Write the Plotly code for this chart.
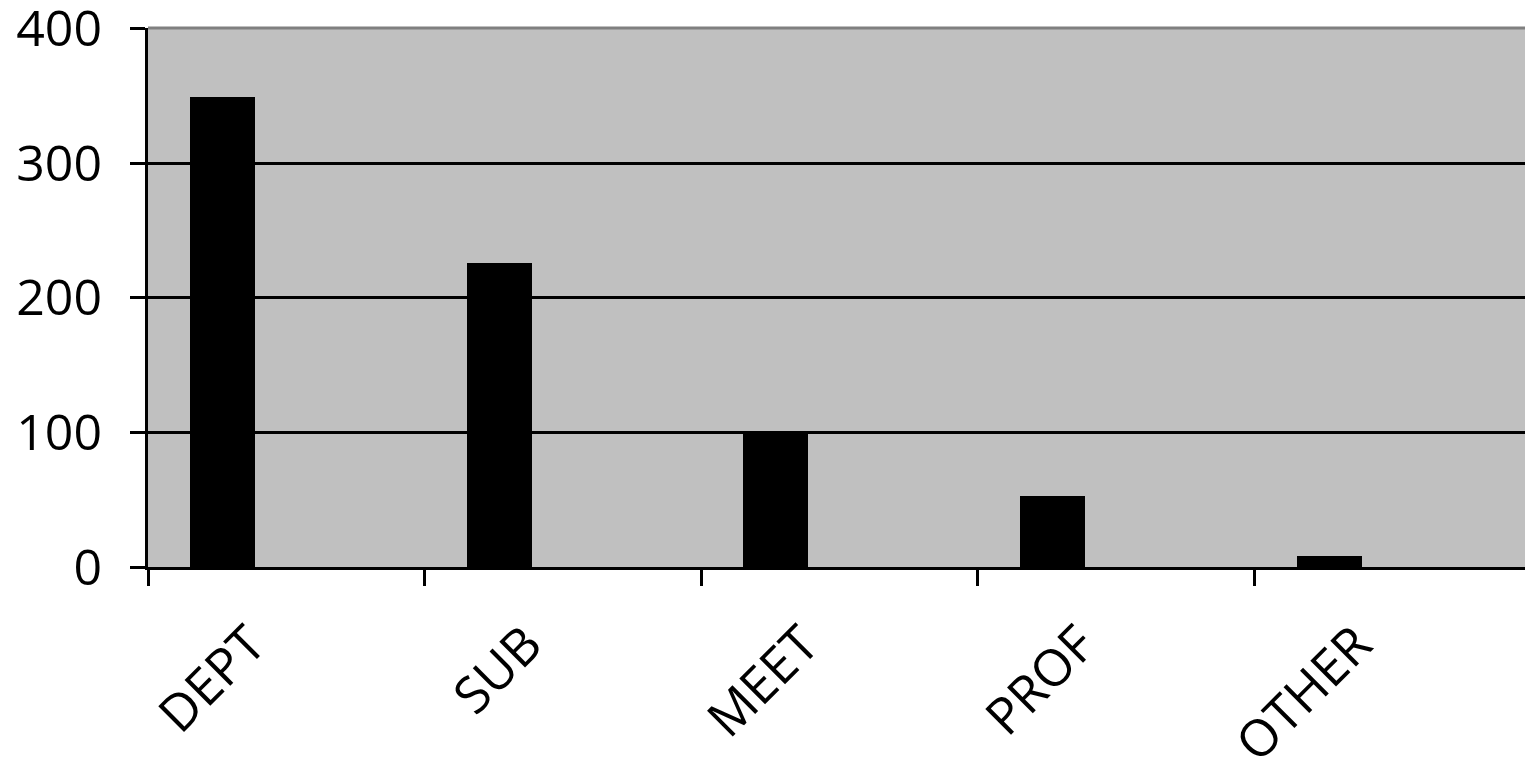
import plotly.graph_objects as go

categories = ["DEPT", "SUB", "MEET", "PROF", "OTHER"]
values = [349, 226, 99, 53, 8]
y_ticks = [0, 100, 200, 300, 400]

FONT = "Open Sans"

fig = go.Figure()
fig.add_trace(go.Bar(
    x=categories,
    y=values,
    width=0.235,
    offset=-0.3475,
    marker=dict(color="black", line=dict(width=0)),
    showlegend=False,
))

# the page body adds an 8px margin, so the figure is sized/margined to compensate
fig.update_layout(
    width=1525,
    height=750,
    margin=dict(l=140, r=2, t=20, b=191),
    paper_bgcolor="white",
    plot_bgcolor="#C0C0C0",
    font=dict(family=FONT, size=50, color="black"),
    bargap=0,
)

fig.update_xaxes(
    type="category",
    range=[-0.5, 4.5],
    automargin=False,
    showline=True,
    linecolor="black",
    linewidth=3,
    ticks="outside",
    tickson="boundaries",
    ticklen=16,
    tickwidth=3,
    tickcolor="black",
    tickangle=-45,
    showgrid=False,
    tickfont=dict(family=FONT, size=51),
    ticklabelshift=-36,
    ticklabelstandoff=24,
)

fig.update_yaxes(
    range=[0, 400.5],
    tickvals=y_ticks,
    automargin=False,
    showline=True,
    linecolor="black",
    linewidth=3,
    ticks="outside",
    ticklen=15,
    tickwidth=3,
    tickcolor="black",
    showgrid=True,
    gridcolor="black",
    gridwidth=3,
    zeroline=False,
    tickfont=dict(family=FONT, size=50),
    ticklabelstandoff=18,
    ticklabeloverflow="allow",
)

# plot-area border (top and right edges)
fig.add_shape(type="line", xref="paper", yref="paper", x0=0, x1=1, y0=1, y1=1,
              line=dict(color="#808080", width=3), layer="above")
fig.add_shape(type="line", xref="paper", yref="paper", x0=1, x1=1, y0=0, y1=1,
              line=dict(color="#808080", width=3), layer="above")

fig.write_html("out.html")
